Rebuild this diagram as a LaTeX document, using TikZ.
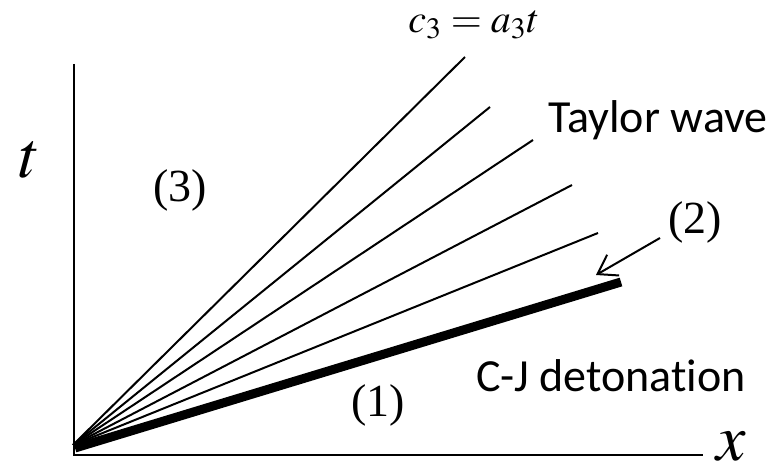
\documentclass[tikz,border=0pt]{standalone}
\usepackage{mathptmx}
\usepackage{fontspec}
\setmainfont{Liberation Serif}
\newfontfamily\labelfont[Ligatures=NoCommon]{Carlito}
\usetikzlibrary{arrows.meta}

\begin{document}
\begin{tikzpicture}[x=0.5pt, y=-0.5pt,
    ray/.style={line width=1pt},
    region/.style={font=\fontsize{23}{26}\selectfont},
    tag/.style={font=\labelfont\fontsize{23}{26}\selectfont}]
    \useasboundingbox (0,0) rectangle (784,476);

    % Coordinate axes
    \coordinate (origin) at (74,455);
    \coordinate (ttop) at (74,64);
    \coordinate (xend) at (703,455);
    \draw[line width=1.2pt] (ttop) -- (origin) -- (xend);
    \node[font=\fontsize{33}{36}\selectfont] (tlabel) at (30,160) {$t$};
    \node[font=\fontsize{33}{36}\selectfont] (xlabel) at (731,447) {$x$};

    % Fan of the Taylor wave
    \coordinate (fan) at (73,445);
    \foreach \ex/\ey [count=\i] in {465/57, 490/107, 533/140, 572/185, 598/233}
        \draw[ray] (fan) -- (\ex,\ey) coordinate (r\i);

    % C-J detonation front
    \coordinate (cjstart) at (75,448);
    \coordinate (cjend) at (621,282);
    \draw[line width=4.5pt] (cjstart) -- (cjend);

    % Labels
    \node[font=\fontsize{20}{24}\selectfont] (head) at (474,25) {$c_3 = a_3 t$};
    \node[region] (reg3) at (180,190) {(3)};
    \node[region] (reg2) at (695,222) {(2)};
    \node[region] (reg1) at (378,405) {(1)};
    \node[tag] (taylor) at (658,120) {Taylor wave};
    \node[tag] (cj) at (611,376) {C-J detonation};

    % Pointer to region (2)
    \coordinate (ptail) at (660,238);
    \coordinate (ptip) at (596,275);
    \draw[line width=1pt, -{Straight Barb[length=9pt, width=12pt]}] (ptail) -- (ptip);
\end{tikzpicture}
\end{document}
